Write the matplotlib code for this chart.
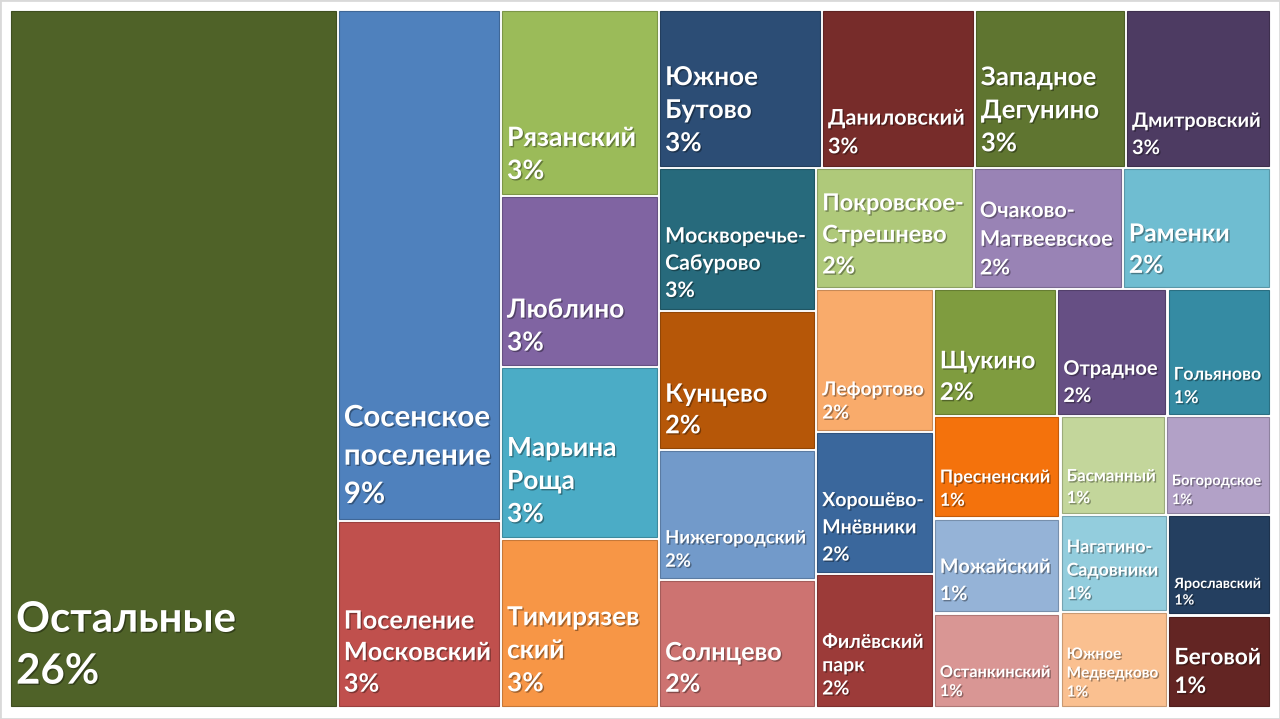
import matplotlib
matplotlib.use("Agg")
import matplotlib.pyplot as plt
import matplotlib.patches as mpatches
import matplotlib.patheffects as pe
import matplotlib.colors as mcolors

# districts in the order the treemap lays them out
names = [
    "Остальные", "Сосенское\nпоселение", "Поселение\nМосковский", "Рязанский",
    "Люблино", "Марьина\nРоща", "Тимирязев\nский", "Южное\nБутово",
    "Даниловский", "Западное\nДегунино", "Дмитровский", "Москворечье-\nСабурово",
    "Кунцево", "Нижегородский", "Солнцево", "Покровское-\nСтрешнево",
    "Очаково-\nМатвеевское", "Раменки", "Лефортово", "Хорошёво-\nМнёвники",
    "Филёвский\nпарк", "Щукино", "Отрадное", "Гольяново",
    "Пресненский", "Можайский", "Останкинский", "Басманный",
    "Богородское", "Нагатино-\nСадовники", "Южное\nМедведково", "Ярославский",
    "Беговой",
]
# share of total, %
values = [
    25.99, 9.48, 3.46, 3.34,
    3.08, 3.08, 3.04, 2.92,
    2.74, 2.71, 2.60, 2.56,
    2.47, 2.32, 2.29, 2.17,
    2.05, 2.04, 1.91, 1.90,
    1.79, 1.78, 1.59, 1.49,
    1.48, 1.37, 1.36, 1.19,
    1.19, 1.18, 1.18, 1.17,
    1.08,
]
colors = [
    "#4f6228", "#4f81bd", "#c0504d", "#9bbb59",
    "#8064a2", "#4bacc6", "#f79646", "#2c4d75",
    "#772c2a", "#5f7530", "#4d3b62", "#276a7c",
    "#b65708", "#729aca", "#cd7371", "#afc97a",
    "#9983b5", "#6fbdd1", "#f9ab6b", "#3a679c",
    "#9c3b39", "#7f9c3f", "#664f84", "#358ba3",
    "#f4720c", "#95b3d7", "#d99694", "#c3d69b",
    "#b2a1c7", "#93cddd", "#fac090", "#243f60",
    "#632523",
]


def last_ratio(row, side):
    thick = sum(row) / side
    length = row[-1] / thick
    return max(thick / length, length / thick)


def treemap(vals, x, y, w, h):
    scale = w * h / sum(vals)
    areas = [v * scale for v in vals]
    rects = []
    i = 0
    while i < len(areas):
        vertical = w >= h
        side = h if vertical else w
        row = [areas[i]]
        cur = last_ratio(row, side)
        j = i + 1
        while j < len(areas):
            r = last_ratio(row + [areas[j]], side)
            if r > cur:
                break
            row.append(areas[j])
            cur = r
            j += 1
        thick = sum(row) / side
        pos = 0
        for a in row:
            length = a / thick
            if vertical:
                rects.append((x, y + pos, thick, length))
            else:
                rects.append((x + pos, y, length, thick))
            pos += length
        if vertical:
            x += thick
            w -= thick
        else:
            y += thick
            h -= thick
        i = j
    return rects


W, H = 1280, 719
fig = plt.figure(figsize=(W / 100, H / 100), dpi=100)
ax = fig.add_axes([0, 0, 1, 1])
ax.set_xlim(0, W)
ax.set_ylim(H, 0)
ax.axis("off")
fig.patches.append(mpatches.Rectangle((0, 0), 1, 1, transform=fig.transFigure,
                                      fill=False, edgecolor="#d9d9d9", lw=2))

rects = treemap(values, 9.5, 9.5, 1261, 698)
total = sum(values)
gap = 1.6
ls = 1.45
renderer = fig.canvas.get_renderer()
shadow = [pe.withSimplePatchShadow(offset=(1, -1), shadow_rgbFace="black", alpha=0.35)]

for (x, y, w, h), name, v, c in zip(rects, names, values, colors):
    edge = [k * 0.8 for k in mcolors.to_rgb(c)]
    ax.add_patch(mpatches.Rectangle((x + gap, y + gap), w - 2 * gap, h - 2 * gap,
                                    facecolor=c, edgecolor=edge, lw=0.8))
    label = f"{name}\n{round(v / total * 100)}%"
    # Lato cap height ~0.72 em, so size in pt ~ cap height in px at dpi 100
    size = 13 + 0.036 * (w * h) ** 0.5
    t = ax.text(0, 0, label, fontsize=20, family="Lato", weight="bold", linespacing=ls)
    bb = t.get_window_extent(renderer)
    t.remove()
    size = min(size, 20 * (w - 16) / bb.width, 20 * (h - 22) / bb.height)
    ax.text(x + gap + 5, y + h - gap - 2 - 0.67 * size, label, fontsize=size,
            family="Lato", weight="bold", color="white", ha="left", va="baseline",
            linespacing=ls, path_effects=shadow)

fig.savefig("out.png", dpi=100)
